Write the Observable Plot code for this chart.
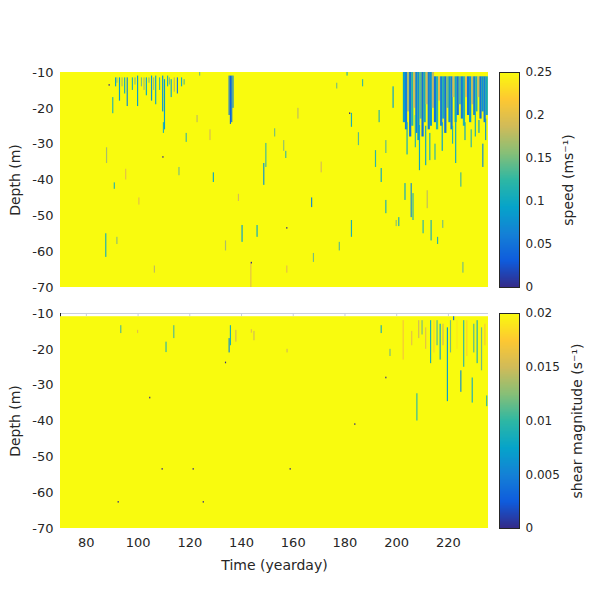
<!DOCTYPE html>
<html>
<head>
<meta charset="utf-8">
<script src="https://cdn.jsdelivr.net/npm/d3@7"></script>
<script src="https://cdn.jsdelivr.net/npm/@observablehq/plot@0.6"></script>
<style>
  html, body { margin: 0; padding: 0; background: #fff; }
  #fig { position: relative; width: 600px; height: 600px; background: #fff; overflow: hidden; }
  #fig > svg { position: absolute; }
</style>
</head>
<body>
<div id="fig"></div>
<script>
// ---------- data ----------
const timeRange = [70, 235.5];
const speedDepthRange = [-10, -70];
const shearDepthRange = [-10.9, -70];
const speedMax = 0.25;
const shearMax = 0.02;
const depthTicks = [-70, -60, -50, -40, -30, -20, -10];
const timeTicks = [80, 100, 120, 140, 160, 180, 200, 220];
const speedTicks = [0, 0.05, 0.1, 0.15, 0.2, 0.25];
const shearTicks = [0, 0.005, 0.01, 0.015, 0.02];

// [yearday, top depth, bottom depth, speed]
const speedStreaks = [
  [90.4, -17, -21.5, 0.12], [91.5, -11.5, -14, 0.1], [93, -11.5, -18, 0.09], [95, -11.5, -16, 0.11],
  [96, -11.5, -19.5, 0.07], [98, -11.5, -15, 0.12], [100, -11, -19.5, 0.09], [101.5, -11.5, -14, 0.15],
  [103.4, -11.5, -16.5, 0.1], [105.4, -11, -18, 0.08], [107, -11, -19, 0.1], [108.5, -11.5, -15, 0.13],
  [109.7, -11, -21, 0.08], [110.4, -12, -26, 0.09], [111.6, -11, -14, 0.12], [113, -12, -17, 0.1],
  [115.4, -11.5, -16, 0.06], [117, -11.5, -14, 0.11], [118, -12, -13.5, 0.14], [124, -10, -11, 0.15],
  [92, -11.5, -13, 0.16], [94, -11.5, -14, 0.17], [99, -11.5, -13.5, 0.16], [102.5, -11.5, -15, 0.17],
  [104.4, -11.5, -13, 0.16], [106.2, -11.5, -15, 0.17], [112.3, -11.5, -13.5, 0.16], [114.2, -11.5, -15.5, 0.18],
  [135.4, -11, -22, 0.05], [135.9, -11, -24.5, 0.04], [136.4, -11, -24, 0.05], [136.9, -11, -20, 0.07],
  [88, -31, -35.4, 0.17], [87.7, -55, -61.6, 0.11], [110, -24, -27, 0.12], [118.8, -27, -29.5, 0.13],
  [116, -36.5, -38.8, 0.15], [129.3, -38, -40.7, 0.1], [140.4, -52.7, -57.4, 0.09], [146.2, -52.7, -56, 0.1],
  [149.6, -29.8, -36.5, 0.13], [148.8, -35.4, -41.5, 0.08], [153, -25.7, -28, 0.15], [156.5, -29, -32, 0.16],
  [157.3, -32, -34, 0.13], [143.8, -63, -70, 0.2], [106.5, -64, -66, 0.18], [95.4, -37, -40, 0.2],
  [91, -40.8, -42.6, 0.12], [92, -56, -58, 0.16], [123, -22, -24, 0.18], [134, -57, -59.8, 0.17],
  [157.7, -64, -66, 0.2], [181, -10, -11, 0.12], [177, -13, -14.6, 0.15], [182.7, -21.4, -25.3, 0.11],
  [187, -12, -14, 0.13], [193.4, -20.6, -24, 0.12], [198.8, -14, -20, 0.09], [192, -31.8, -36.5, 0.12],
  [196, -29, -32.6, 0.14], [194.2, -36.8, -40.7, 0.1], [196, -45.7, -49.4, 0.11], [203.4, -41, -45.7, 0.1],
  [205.8, -41, -50.5, 0.07], [206.5, -43.8, -51.3, 0.12], [210.4, -51.3, -55, 0.12], [213.5, -51.3, -57, 0.11],
  [218, -51.3, -53.5, 0.15], [167.3, -45, -47.7, 0.07], [182.7, -51.3, -56, 0.11], [178, -57.4, -59.8, 0.14],
  [168, -60.5, -63, 0.15], [200, -51.3, -53, 0.16], [225, -38, -42, 0.13], [233.5, -30, -36.5, 0.07],
  [185.4, -26.8, -30.4, 0.14], [215, -30, -34.5, 0.12], [209, -24.8, -37.4, 0.1], [213, -27, -34.6, 0.11],
  [223, -24, -35.4, 0.1], [229, -26, -31, 0.12], [232, -23.4, -27, 0.09], [201, -50.5, -53, 0.11],
  [216, -56, -58, 0.12], [225.8, -63, -66, 0.15], [212, -43, -48, 0.18], [162, -20, -23, 0.18],
  [171, -35, -38, 0.19], [139, -44, -46, 0.19], [128, -26, -29, 0.19], [100.5, -45, -47, 0.2],
  [204.2, -24, -33, 0.1], [207.4, -22, -31, 0.12], [211.4, -25, -36, 0.1], [217.8, -24, -32, 0.09],
  [221.8, -25, -30, 0.12], [226.6, -24, -29, 0.1], [230.6, -21, -28, 0.11], [234.6, -23, -29, 0.08]
];

// dense surface layer, days 203-235: [yearday, top depth, bottom depth, speed]
const speedDense = [
  [203.0, -10, -24, 0.09], [203.8, -10, -26, 0.06], [204.6, -10, -21, 0.17], [205.4, -10, -28, 0.05],
  [206.2, -10, -25, 0.12], [207.0, -10, -20, 0.19], [207.8, -10, -27, 0.06], [208.6, -10, -29, 0.08],
  [209.4, -10, -23, 0.14], [210.2, -10, -28, 0.05], [211.0, -10, -24, 0.11], [211.8, -10, -19, 0.19],
  [212.6, -10, -26, 0.06], [213.4, -10, -25, 0.08], [214.2, -10, -20, 0.18], [215.0, -11.2, -24, 0.05],
  [215.8, -11.2, -26, 0.12], [216.6, -11.2, -18, 0.2], [217.4, -11.2, -25, 0.06], [218.2, -11.2, -23, 0.11],
  [219.0, -11.2, -27, 0.05], [219.8, -11.2, -20, 0.15], [220.6, -11.2, -24, 0.08], [221.4, -11.2, -26, 0.06],
  [222.2, -11.2, -17, 0.19], [223.0, -11.2, -24, 0.1], [223.8, -11.2, -22, 0.05], [224.6, -11.2, -19, 0.14],
  [225.4, -11.2, -23, 0.06], [226.2, -11.2, -25, 0.12], [227.0, -11.2, -17, 0.2], [227.8, -11.2, -22, 0.05],
  [228.6, -11.2, -24, 0.08], [229.4, -11.2, -19, 0.18], [230.2, -11.2, -22, 0.06], [231.0, -11.2, -21, 0.11],
  [231.8, -11.2, -17, 0.19], [232.6, -11.2, -23, 0.05], [233.4, -11.2, -21, 0.08], [234.2, -11.2, -24, 0.06],
  [235.0, -11.2, -22, 0.1]
];

// [yearday, depth] near-zero speed points
const speedDots = [[89, -13.6], [109.8, -33.7], [157.7, -53.5], [144, -63.2], [182, -21.5]];

// [yearday, top depth, bottom depth, shear]
const shearStreaks = [
  [93.5, -13.4, -15.6, 0.011], [100, -14.7, -15.6, 0.016], [111, -18, -20.9, 0.01], [114, -13.4, -17, 0.011],
  [135.4, -17, -21, 0.006], [135.9, -13.4, -19, 0.009], [138, -14.7, -18, 0.015], [144, -14.5, -15.5, 0.016],
  [145, -15, -17.6, 0.015], [157.8, -20, -21, 0.015], [194.2, -13.4, -15.6, 0.009], [197.6, -20, -22, 0.012],
  [208, -32.4, -40, 0.01], [202.7, -12, -23, 0.017], [210, -12, -16, 0.012], [211.4, -14, -20, 0.016],
  [213.3, -12, -24, 0.009], [214.6, -12, -21, 0.018], [215.8, -12, -19, 0.011], [217, -13, -23, 0.008],
  [218.1, -13, -19, 0.015], [219.8, -14, -34.6, 0.007], [221, -12, -21, 0.012], [222.2, -10.9, -12, 0.004],
  [223.5, -12, -20, 0.019], [225, -26, -32, 0.006], [226.1, -12, -25, 0.01], [227.3, -12, -22, 0.018],
  [229.4, -28, -35, 0.009], [230, -13, -21, 0.011], [231.3, -12, -24, 0.009], [233, -14, -26, 0.012],
  [234.3, -13, -19, 0.017], [235, -33, -36, 0.01], [206, -15, -19, 0.016], [208.7, -12, -17, 0.015]
];

// [yearday, depth] near-zero shear points
const shearDots = [[104.7, -33.6], [109.5, -53.5], [121.5, -53.5], [125.4, -62.7], [92.5, -62.7],
  [159, -53.5], [134, -23.8], [196, -28], [184, -41]];

// ---------- styles ----------
const parula = ["#352a87", "#0f5cdd", "#1481d6", "#06a4ca", "#2eb7a4", "#87bf77", "#d1bb59", "#fec832", "#f9fb0e"];
const parulaInterp = d3.piecewise(d3.interpolateRgb, parula);
const W = 0.45;        // streak width (days)
const DENSE_W = 0.85;  // dense-layer column width (days)
const DOT_H = 0.45;    // dot height (m)
const FONT = "DejaVu Sans";
const INK = "#262626";
const fig = document.getElementById("fig");

function place(svg, left, top) {
  svg.style.left = left + "px";
  svg.style.top = top + "px";
  fig.appendChild(svg);
}

function rectOpts(w) {
  return {
    x1: d => d[0] - w / 2, x2: d => d[0] + w / 2,
    y1: d => d[1], y2: d => d[2], fill: d => d[3]
  };
}

function panel({depthRange, vmax, streaks, dense, dots, top, bottomAxis}) {
  const field = [{t1: timeRange[0], t2: timeRange[1], d1: depthRange[0], d2: depthRange[1], v: vmax}];
  const dotRows = dots.map(([t, d]) => [t, d + DOT_H / 2, d - DOT_H / 2, 0]);
  const marks = [
    Plot.rect(field, {x1: "t1", x2: "t2", y1: "d1", y2: "d2", fill: "v"}),
    Plot.rect(dense, rectOpts(DENSE_W)),
    Plot.rect(streaks, rectOpts(W)),
    Plot.rect(dotRows, rectOpts(W)),
    Plot.axisY(depthTicks, {
      tickSize: 0, tickPadding: 7, tickFormat: d => String(d), fontSize: 13, label: null
    }),
    Plot.text(["Depth (m)"], {frameAnchor: "left", dx: -45, rotate: -90, fontSize: 14, fill: INK,
      textAnchor: "middle", lineAnchor: "middle"})
  ];
  if (bottomAxis) {
    marks.push(
      Plot.ruleY([depthRange[0] + 0.9], {stroke: "#c9cfdf", strokeWidth: 1}),
      Plot.ruleX(timeTicks, {y1: depthRange[0] + 0.9, y2: depthRange[0], stroke: "#c9cfdf"}),
      Plot.ruleX([timeRange[0]], {y1: depthRange[0] + 0.9, y2: depthRange[0], stroke: INK}),
      Plot.axisX(timeTicks, {
        tickSize: 0, tickPadding: 9, fontSize: 13, tickFormat: d => String(d), label: null
      }),
      Plot.text(["Time (yearday)"], {frameAnchor: "bottom", dy: 37, fontSize: 14, fill: INK,
        textAnchor: "middle", lineAnchor: "middle"})
    );
  }
  return Plot.plot({
    width: 490, height: 300,
    marginLeft: 60, marginRight: 2,
    marginTop: top ? 72 : 13, marginBottom: top ? 13 : 72,
    x: {domain: timeRange, axis: null},
    y: {domain: [-70, -10], axis: null},
    color: {type: "linear", domain: [0, vmax], interpolate: parulaInterp, clamp: true},
    style: {fontFamily: FONT, fontSize: "13px", color: INK, background: "transparent"},
    marks
  });
}

function colorbar({vmax, ticks, label, top, labelDx}) {
  return Plot.plot({
    width: 110, height: 300,
    marginLeft: 9, marginRight: 81,
    marginTop: top ? 72 : 13, marginBottom: top ? 13 : 72,
    x: {domain: [0, 1], axis: null},
    y: {domain: [0, vmax], axis: null},
    color: {type: "linear", domain: [0, vmax], interpolate: parulaInterp, clamp: true},
    style: {fontFamily: FONT, fontSize: "12px", color: INK, background: "transparent"},
    marks: [
      Plot.raster({x1: 0, x2: 1, y1: 0, y2: vmax, width: 1, height: 256, fill: (x, y) => y, imageRendering: "auto"}),
      Plot.frame({stroke: INK, strokeWidth: 1}),
      Plot.axisY(ticks, {
        anchor: "right", tickSize: 0, tickPadding: 6, fontSize: 12, tickFormat: d => String(d), label: null
      }),
      Plot.text([label], {frameAnchor: "right", dx: labelDx, rotate: -90, fontSize: 14, fill: INK,
        textAnchor: "middle", lineAnchor: "middle"})
    ]
  });
}

place(panel({depthRange: speedDepthRange, vmax: speedMax, streaks: speedStreaks, dense: speedDense, dots: speedDots, top: true, bottomAxis: false}), 0, 0);
place(panel({depthRange: shearDepthRange, vmax: shearMax, streaks: shearStreaks, dense: [], dots: shearDots, top: false, bottomAxis: true}), 0, 300);
place(colorbar({vmax: speedMax, ticks: speedTicks, label: "speed (ms⁻¹)", top: true, labelDx: 49}), 490, 0);
place(colorbar({vmax: shearMax, ticks: shearTicks, label: "shear magnitude (s⁻¹)", top: false, labelDx: 58}), 490, 300);
</script>
</body>
</html>
